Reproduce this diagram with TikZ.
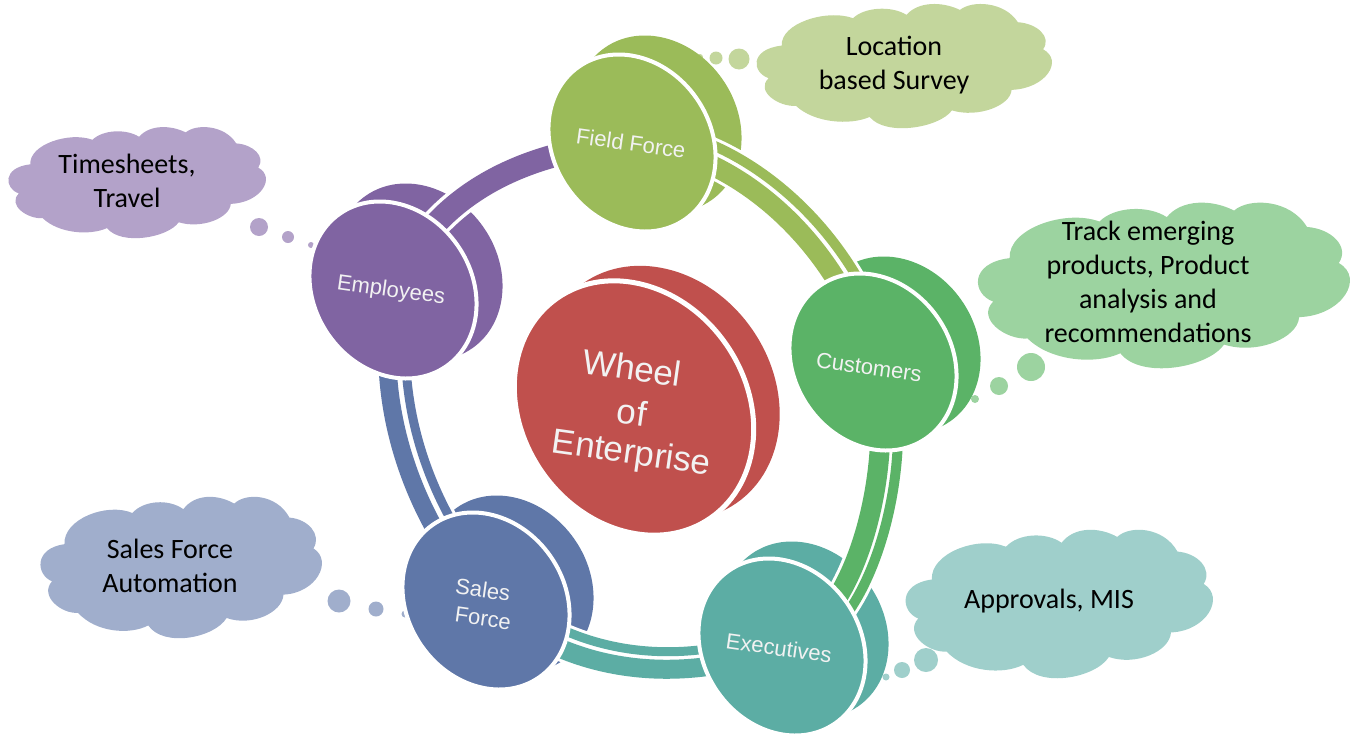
\documentclass[tikz,border=0pt]{standalone}
\usepackage{fontspec}
\setmainfont{Liberation Sans}
\newfontfamily\cloudfont{Carlito}
\usetikzlibrary{shapes.geometric}
\definecolor{cPurple}{HTML}{8064A2}
\definecolor{cLime}{HTML}{9BBB59}
\definecolor{cGreen}{HTML}{5BB367}
\definecolor{cTeal}{HTML}{5CADA4}
\definecolor{cBlue}{HTML}{5F77A8}
\definecolor{cRed}{HTML}{C0504D}
\definecolor{lPurple}{HTML}{B3A2C9}
\definecolor{lLime}{HTML}{C3D69C}
\definecolor{lGreen}{HTML}{9CD3A0}
\definecolor{lTeal}{HTML}{9FCFCB}
\definecolor{lBlue}{HTML}{A0AECC}
\newcommand{\puffcloud}[5]{%
  \begin{scope}[shift={(#1,#2)},x=#3pt,y=-#4pt]
    \fill[#5] (.09,.33)
      .. controls (.085,.15) and (.24,.03) .. (.33,.107)
      .. controls (.37,.015) and (.46,.005) .. (.51,.08)
      .. controls (.55,-.03) and (.63,-.03) .. (.69,.04)
      .. controls (.73,-.04) and (.84,-.03) .. (.885,.14)
      .. controls (.95,.15) and (1.0,.26) .. (.97,.36)
      .. controls (1.04,.45) and (.98,.68) .. (.864,.69)
      .. controls (.86,.82) and (.75,.92) .. (.663,.857)
      .. controls (.62,1.0) and (.44,1.07) .. (.386,.91)
      .. controls (.32,.98) and (.2,.96) .. (.138,.82)
      .. controls (.08,.83) and (.0,.70) .. (.046,.595)
      .. controls (-.01,.55) and (-.02,.36) .. (.09,.33) -- cycle;
  \end{scope}}
\tikzset{
  x=1pt,y=-1pt,
  smalldisc/.style={ellipse,inner sep=0pt,outer sep=0pt,minimum width=186pt,minimum height=157pt,rotate=-55,line width=4pt},
  bigdisc/.style={ellipse,inner sep=0pt,outer sep=0pt,minimum width=268pt,minimum height=224pt,rotate=-55,line width=5pt},
  disctext/.style={text=white!95!black,font=\fontsize{22}{28}\selectfont,rotate=-8,align=center,inner sep=0pt},
  cloudtext/.style={text=black,font=\cloudfont\fontsize{28}{34}\selectfont,align=center,inner sep=0pt},
  case/.style={draw=white,line width=#1pt},
  band/.style 2 args={draw=#1,line width=#2pt},
}
\begin{document}
\begin{tikzpicture}
\useasboundingbox (0,0) rectangle (1360,734);
% thought clouds
\puffcloud{755}{5}{297}{123}{lLime}
\puffcloud{976}{204}{374}{164}{lGreen}
\puffcloud{7}{128}{259}{110}{lPurple}
\puffcloud{39}{498}{283}{140}{lBlue}
\puffcloud{904}{531}{309}{147}{lTeal}
% thought dots
\fill[lLime] (739,59) circle (10.5) (716,58) circle (6.5) (700,57) circle (3);
\fill[lGreen] (1031,367) circle (14) (999,386) circle (9) (975,399) circle (4);
\fill[lPurple] (259,227) circle (9) (288,237) circle (6) (311,245) circle (3);
\fill[lBlue] (339,601) circle (11.5) (376,609) circle (7.5) (405,614) circle (3.5);
\fill[lTeal] (926,660) circle (12) (902,670) circle (8) (886,677) circle (3.5);
% back crescents
\node[smalldisc,fill=cLime] (ffb) at (658,124) {};
\node[smalldisc,fill=cGreen] (cub) at (897,345) {};
\node[smalldisc,fill=cTeal] (exb) at (805,630) {};
\node[smalldisc,fill=cBlue] (sfb) at (510,584) {};
\node[smalldisc,fill=cPurple] (emb) at (419,272) {};
\node[bigdisc,fill=cRed] (wheelb) at (660,393) {};
% centre anchors of the front discs
\coordinate (ffc) at (632,143);
\coordinate (cuc) at (873,362);
\coordinate (exc) at (782,647);
\coordinate (sfc) at (486,601);
\coordinate (emc) at (393,290);
% connectors: Employees - Field Force
\draw[case=30] (emc) .. controls (435,190) and (530,150) .. (ffc);
\draw[band={cPurple}{23}] (emc) .. controls (435,190) and (530,150) .. (ffc);
% Field Force - Customers
\draw[case=26] (ffc) .. controls (730,150) and (836,236) .. (cuc);
\draw[case=16] ([shift={(8,-16)}]ffc) .. controls (740,132) and (855,227) .. ([shift={(17,-7)}]cuc);
\draw[band={cLime}{20}] (ffc) .. controls (730,150) and (836,236) .. (cuc);
\draw[band={cLime}{10}] ([shift={(8,-16)}]ffc) .. controls (740,132) and (855,227) .. ([shift={(17,-7)}]cuc);
% Customers - Executives
\draw[case=26] (cuc) .. controls (897,450) and (862,621) .. (exc);
\draw[case=16] ([shift={(17,3)}]cuc) .. controls (916,453) and (878,628) .. ([shift={(15,7)}]exc);
\draw[band={cGreen}{20}] (cuc) .. controls (897,450) and (862,621) .. (exc);
\draw[band={cGreen}{10}] ([shift={(17,3)}]cuc) .. controls (916,453) and (878,628) .. ([shift={(15,7)}]exc);
% Executives - Sales Force
\draw[case=25] (exc) .. controls (700,680) and (579,685) .. (sfc);
\draw[case=15] ([shift={(0,-18)}]exc) .. controls (700,662) and (587,668) .. ([shift={(8,-16)}]sfc);
\draw[band={cTeal}{19}] (exc) .. controls (700,680) and (579,685) .. (sfc);
\draw[band={cTeal}{9}] ([shift={(0,-18)}]exc) .. controls (700,662) and (587,668) .. ([shift={(8,-16)}]sfc);
% Sales Force - Employees
\draw[case=25] (sfc) .. controls (405,510) and (373,393) .. (emc);
\draw[case=15] ([shift={(17,-8)}]sfc) .. controls (422,502) and (392,390) .. ([shift={(18,-2)}]emc);
\draw[band={cBlue}{18}] (sfc) .. controls (405,510) and (373,393) .. (emc);
\draw[band={cBlue}{9}] ([shift={(17,-8)}]sfc) .. controls (422,502) and (392,390) .. ([shift={(18,-2)}]emc);
% front discs
\node[smalldisc,fill=cLime,draw=white] (ff) at (ffc) {};
\node[smalldisc,fill=cGreen,draw=white] (cu) at (cuc) {};
\node[smalldisc,fill=cTeal,draw=white] (ex) at (exc) {};
\node[smalldisc,fill=cBlue,draw=white] (sf) at (sfc) {};
\node[smalldisc,fill=cPurple,draw=white] (em) at (emc) {};
\node[bigdisc,fill=cRed,draw=white] (wheel) at (634,408) {};
% disc labels
\node[disctext] (tff) at (631,143) {Field Force};
\node[disctext] (tcu) at (869,367) {Customers};
\node[disctext] (tex) at (779,648) {Executives};
\node[disctext] (tsf) at (484,604) {Sales\hspace*{6pt}\\\hspace*{2pt}Force};
\node[disctext] (tem) at (391,291) {Employees};
\node[disctext,font=\fontsize{35}{44}\selectfont] (twh) at (632,413) {Wheel\hspace*{12pt}\\of\\[-5pt]\hspace*{10pt}Enterprise};
% cloud labels
\node[cloudtext] (c1) at (894,65) {Location\\based Survey};
\node[cloudtext] (c2) at (1148,282) {Track emerging\\products, Product\\analysis and\\recommendations};
\node[cloudtext] (c3) at (127,181) {Timesheets,\\Travel};
\node[cloudtext] (c4) at (170,566) {Sales Force\\Automation};
\node[cloudtext] (c5) at (1049,601) {Approvals, MIS};
\end{tikzpicture}
\end{document}
